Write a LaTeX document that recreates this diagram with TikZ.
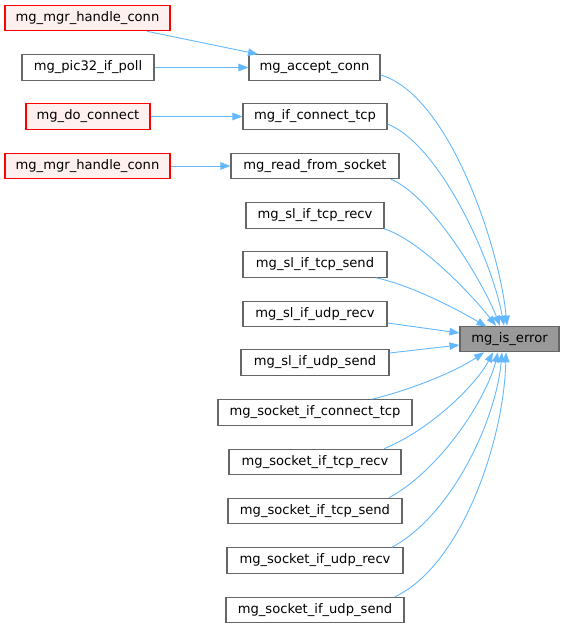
\documentclass[tikz,border=0pt]{standalone}
\usepackage{fontspec}
\setmainfont{DejaVu Sans}
\usetikzlibrary{arrows.meta,calc}
\definecolor{edgeblue}{HTML}{63B8FF}
\definecolor{boxgray}{HTML}{666666}
\definecolor{redfill}{HTML}{FFF0F0}
\definecolor{errfill}{HTML}{999999}
\begin{document}
\begin{tikzpicture}[x=1pt,y=-1pt,
  fn/.style={draw=boxgray,fill=white,line width=1.1pt,minimum height=25.5pt,inner sep=0pt,font=\fontsize{13.1}{15}\selectfont},
  redfn/.style={fn,draw=red,fill=redfill},
  errfn/.style={fn,fill=errfill},
  edge/.style={draw=edgeblue,line width=0.9pt,-{Triangle[length=10pt,width=7.5pt]}}]
\useasboundingbox (0,0) rectangle (564,628);
\node[redfn,minimum width=165pt] (n1) at (87.5,18) {mg\_mgr\_handle\_conn};
\node[fn,minimum width=132pt] (n2) at (88,67.5) {mg\_pic32\_if\_poll};
\node[redfn,minimum width=124pt] (n3) at (88,116.5) {mg\_do\_connect};
\node[redfn,minimum width=165pt] (n4) at (87.5,166) {mg\_mgr\_handle\_conn};
\node[fn,minimum width=131pt] (acc) at (314.5,67.5) {mg\_accept\_conn};
\node[fn,minimum width=144pt] (ict) at (315,116.5) {mg\_if\_connect\_tcp};
\node[fn,minimum width=168pt] (rfs) at (315,166) {mg\_read\_from\_socket};
\node[fn,minimum width=138pt] (str) at (315,215.5) {mg\_sl\_if\_tcp\_recv};
\node[fn,minimum width=144pt] (sts) at (315,264.5) {mg\_sl\_if\_tcp\_send};
\node[fn,minimum width=144pt] (sur) at (315,314) {mg\_sl\_if\_udp\_recv};
\node[fn,minimum width=148pt] (sus) at (315,362.5) {mg\_sl\_if\_udp\_send};
\node[errfn,minimum width=99pt] (err) at (509.5,339) {mg\_is\_error};
\node[fn,minimum width=194pt] (sct) at (315,412.5) {mg\_socket\_if\_connect\_tcp};
\node[fn,minimum width=172pt] (str2) at (315,462) {mg\_socket\_if\_tcp\_recv};
\node[fn,minimum width=174pt] (sts2) at (315,511) {mg\_socket\_if\_tcp\_send};
\node[fn,minimum width=176pt] (sur2) at (315,560.5) {mg\_socket\_if\_udp\_recv};
\node[fn,minimum width=178pt] (sus2) at (315,610) {mg\_socket\_if\_udp\_send};
% left edges
\draw[edge] ([xshift=59.5pt]n1.south) -- ([xshift=-56.5pt]acc.north);
\draw[edge] (n2.east) -- (acc.west);
\draw[edge] (n3.east) -- (ict.west);
\draw[edge] (n4.east) -- (rfs.west);
% edges into mg_is_error
\draw[edge] ([yshift=-7.5pt]acc.east) .. controls (450,95) and (500,250) .. ([xshift=-2.5pt]err.north);
\draw[edge] ([yshift=-7.5pt]ict.east) .. controls (440,145) and (492,260) .. ([xshift=-5.5pt]err.north);
\draw[edge] ([xshift=76pt]rfs.south) .. controls (430,195) and (482,280) .. ([xshift=-9.5pt]err.north);
\draw[edge] ([xshift=69pt]str.south) .. controls (420,240) and (472,295) .. ([xshift=-13.5pt]err.north);
\draw[edge] ([xshift=61pt]sts.south) .. controls (410,285) and (455,308) .. ([xshift=-23pt,yshift=-1pt]err.north);
\draw[edge] ([yshift=-9pt]sur.east) -- ([yshift=6pt]err.west);
\draw[edge] ([yshift=9.5pt]sus.east) -- ([yshift=-6pt]err.west);
\draw[edge] ([xshift=57pt]sct.north) .. controls (410,390) and (455,372) .. ([xshift=-25.5pt]err.south);
\draw[edge] ([xshift=69pt]str2.north) .. controls (430,430) and (476,385) .. ([xshift=-16.5pt]err.south);
\draw[edge] ([xshift=74pt]sts2.north) .. controls (440,470) and (486,400) .. ([xshift=-11.5pt]err.south);
\draw[edge] ([xshift=77pt]sur2.north) .. controls (452,515) and (496,420) .. ([xshift=-7.5pt]err.south);
\draw[edge] ([xshift=80pt]sus2.north) .. controls (462,565) and (504,440) .. ([xshift=-3.5pt]err.south);
\end{tikzpicture}
\end{document}
